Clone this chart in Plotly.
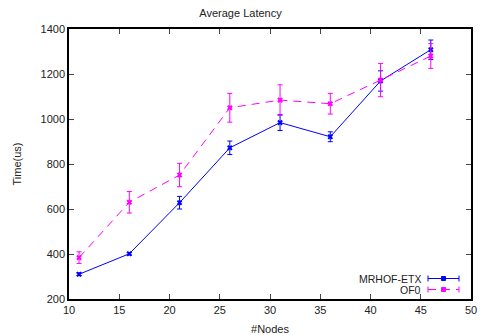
import plotly.graph_objects as go

nodes = [11, 16, 21, 26, 31, 36, 41, 46]
mrhof = [310, 401, 628, 872, 984, 921, 1169, 1308]
mrhof_err = [6, 5, 28, 30, 35, 22, 45, 43]
of0 = [384, 630, 751, 1050, 1084, 1068, 1173, 1280]
of0_err = [26, 48, 52, 64, 68, 46, 74, 55]

x_ticks = [10, 15, 20, 25, 30, 35, 40, 45, 50]
y_ticks = [200, 400, 600, 800, 1000, 1200, 1400]

BLUE = "#0000ff"
MAG = "#ff00ff"
FONT = "Liberation Sans, Arial, sans-serif"

fig = go.Figure()
fig.add_trace(go.Scatter(
    x=nodes, y=mrhof, mode="lines+markers", name="MRHOF-ETX",
    line=dict(color=BLUE, width=1),
    marker=dict(symbol="x", size=5, color=BLUE),
    error_y=dict(type="data", array=mrhof_err, color=BLUE, thickness=1, width=2.5),
))
fig.add_trace(go.Scatter(
    x=nodes, y=of0, mode="lines+markers", name="OF0",
    line=dict(color=MAG, width=1, dash="8px,6px"),
    marker=dict(symbol="x", size=5, color=MAG),
    error_y=dict(type="data", array=of0_err, color=MAG, thickness=1, width=2.5),
))

# manual gnuplot-style legend (text left of sample)
legend_items = [("MRHOF-ETX", BLUE, "solid"), ("OF0", MAG, "8px,6px")]
legend_rows = [278.5, 289.5]
shapes = []
annotations = []
# paper coords: plot area x 69..471, y 29..299 in a 481x335 page
def px(xp):
    return (xp - 69) / (471 - 69)
def py(yp):
    return (299 - yp) / (299 - 29)
for (name, col, dash), row in zip(legend_items, legend_rows):
    yy = py(row)
    annotations.append(dict(x=px(423), y=yy, xref="paper", yref="paper", text=name,
                            showarrow=False, xanchor="right", yanchor="middle",
                            font=dict(family=FONT, size=10.5, color="#222222")))
    shapes.append(dict(type="line", xref="paper", yref="paper", x0=px(428), x1=px(459),
                       y0=yy, y1=yy, line=dict(color=col, width=1, dash=dash)))
    for xe in (428, 459):
        shapes.append(dict(type="line", xref="paper", yref="paper", x0=px(xe), x1=px(xe),
                           y0=py(row - 3), y1=py(row + 3),
                           line=dict(color=col, width=1)))
    shapes.append(dict(type="rect", xref="paper", yref="paper", x0=px(441.5), x1=px(445.5),
                       y0=py(row - 2), y1=py(row + 2),
                       line=dict(color=col, width=1), fillcolor=col))

fig.update_layout(
    width=481, height=335,
    margin=dict(l=69, r=10, t=29, b=36),
    paper_bgcolor="white", plot_bgcolor="white",
    showlegend=False,
    font=dict(family=FONT, size=11, color="#222222"),
    title=dict(text="Average Latency", x=0.5, xanchor="center", y=1 - 13 / 335, yanchor="middle",
               font=dict(size=11)),
    xaxis=dict(range=[10, 50], tickvals=x_ticks, ticks="inside", ticklen=5, mirror="ticks",
               showline=True, linecolor="black", linewidth=1.5, showgrid=False, zeroline=False,
               automargin=False,
               title=dict(text="#Nodes", standoff=14, font=dict(size=11))),
    yaxis=dict(range=[200, 1400], tickvals=y_ticks, ticks="inside", ticklen=5, mirror="ticks",
               showline=True, linecolor="black", linewidth=1.5, showgrid=False, zeroline=False,
               automargin=False,
               title=dict(text="Time(us)", standoff=17, font=dict(size=11))),
    shapes=shapes, annotations=annotations,
)
fig.write_html("out.html", config={"displayModeBar": False},
               post_script="document.body.style.margin='0';document.body.style.overflow='hidden';")
